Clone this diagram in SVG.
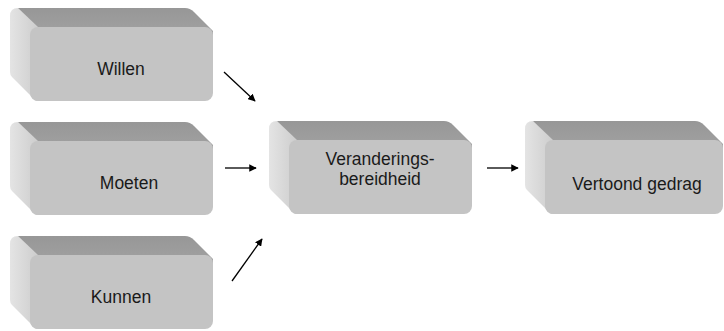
<svg xmlns="http://www.w3.org/2000/svg" xmlns:xlink="http://www.w3.org/1999/xlink" width="724" height="331" viewBox="0 0 724 331">
<style>
  .lbl{font-family:"Liberation Sans",Arial,sans-serif;font-size:17.5px;fill:#1a1a1a;text-anchor:middle}
  .conn{stroke:#000;stroke-width:1.3;fill:none;marker-end:url(#ah)}
  .front{fill:#c4c4c4}
  .top{fill:url(#gTop)}
  .side{fill:url(#gSide)}
</style>
<defs>
  <linearGradient id="gSide" x1="0" y1="0" x2="1" y2="0">
    <stop offset="0" stop-color="#e4e4e4"/>
    <stop offset="1" stop-color="#cdcdcd"/>
  </linearGradient>
  <linearGradient id="gTop" x1="0" y1="0" x2="0" y2="1">
    <stop offset="0" stop-color="#979797"/>
    <stop offset="1" stop-color="#a6a6a6"/>
  </linearGradient>
  <marker id="ah" viewBox="0 0 10 10" refX="9" refY="5" markerWidth="7.5" markerHeight="7.5" markerUnits="userSpaceOnUse" orient="auto">
    <path d="M0,0 L10,5 L0,10 Z" fill="#000"/>
  </marker>
  <g id="box">
    <path class="top" d="M8,0 H175 Q180,0 184,4 L203,23 V40 H20 Z"/>
    <path class="side" d="M0,8 Q0,0 8,0 L28,19 V93 H26 L2,69 Q0,67 0,64 Z"/>
    <rect class="front" x="20" y="19" width="183" height="74" rx="8"/>
  </g>
  <g id="boxR">
    <path class="top" d="M8,0 H170 Q175,0 179,4 L198,23 V40 H20 Z"/>
    <path class="side" d="M0,8 Q0,0 8,0 L28,19 V93 H26 L2,69 Q0,67 0,64 Z"/>
    <rect class="front" x="20" y="19" width="178" height="74" rx="8"/>
  </g>
</defs>
<rect width="724" height="331" fill="#fff"/>
<g id="node-willen">
  <use xlink:href="#box" transform="translate(10,8)"/>
  <text class="lbl" x="121" y="75">Willen</text>
</g>
<g id="node-moeten">
  <use xlink:href="#box" transform="translate(10,122)"/>
  <text class="lbl" x="129" y="189">Moeten</text>
</g>
<g id="node-kunnen">
  <use xlink:href="#box" transform="translate(10,236)"/>
  <text class="lbl" x="121" y="303">Kunnen</text>
</g>
<g id="node-veranderingsbereidheid">
  <use xlink:href="#box" transform="translate(269,121)"/>
  <text class="lbl" x="380" y="165">Veranderings-</text>
  <text class="lbl" x="380" y="185">bereidheid</text>
</g>
<g id="node-vertoond-gedrag">
  <use xlink:href="#boxR" transform="translate(525,121)"/>
  <text class="lbl" x="637" y="190">Vertoond gedrag</text>
</g>
<g id="connectors">
  <line class="conn" x1="224" y1="72" x2="255" y2="101"/>
  <line class="conn" x1="225" y1="168" x2="256" y2="168"/>
  <line class="conn" x1="232" y1="281" x2="262" y2="239"/>
  <line class="conn" x1="487" y1="168" x2="518" y2="168"/>
</g>
</svg>
